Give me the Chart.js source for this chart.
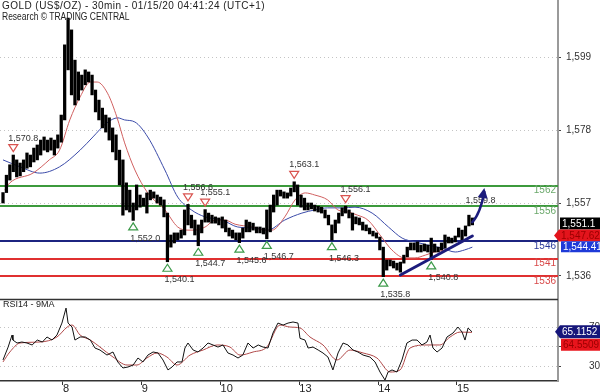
<!DOCTYPE html>
<html><head><meta charset="utf-8">
<script src="https://cdn.jsdelivr.net/npm/chart.js@4.4.1/dist/chart.umd.min.js"></script>
<style>
html,body{margin:0;padding:0;background:#fff;width:600px;height:392px;overflow:hidden;font-family:"Liberation Sans",Arial,sans-serif;}
canvas{position:absolute;left:0;}
#main{top:0;}
#rsi{top:298px;}
.t{position:absolute;left:2px;font-size:10px;line-height:11px;color:#222;white-space:nowrap;transform-origin:0 0;}
</style></head><body>
<canvas id="main" width="600" height="298"></canvas>
<canvas id="rsi" width="600" height="94"></canvas>
<div class="t" style="top:0px;letter-spacing:0.45px">GOLD (US$/OZ) - 30min - 01/15/20 04:41:24 (UTC+1)</div>
<div class="t" style="top:11px;transform:scaleX(0.85)">Research © TRADING CENTRAL</div>
<div class="t" style="top:299px;left:3px;font-size:9px">RSI14 - 9MA</div>
<script>
// ---------- DATA ----------
// 30-min bars, one sample every 2 bars (bar index = 2*i)
const priceHigh = [1560.0,1565.0,1568.0,1570.8,1569.4,1568.5,1569.4,1571.4,1570.8,1572.8,1573.7,1575.1,1576.0,1575.1,1575.7,1575.1,1576.6,1582.3,1602.5,1610.2,1606.8,1598.1,1594.7,1593.8,1595.3,1594.7,1593.8,1589.5,1586.6,1584.3,1582.3,1581.5,1578.6,1576.6,1572.2,1569.4,1562.8,1560.7,1557.0,1562.2,1559.3,1558.4,1559.9,1560.7,1560.2,1559.3,1558.7,1557.9,1554.1,1547.8,1548.4,1548.4,1549.2,1555.0,1556.6,1553.5,1552.1,1550.7,1552.1,1555.1,1554.1,1553.5,1553.0,1552.7,1553.0,1552.1,1549.8,1549.2,1548.4,1548.4,1549.8,1552.1,1551.5,1551.2,1550.1,1550.1,1549.8,1555.0,1556.4,1559.3,1560.7,1560.7,1560.2,1559.9,1561.3,1563.1,1562.2,1559.3,1558.4,1557.0,1557.0,1556.4,1556.1,1555.8,1555.0,1553.5,1550.7,1552.1,1554.1,1555.6,1556.1,1555.0,1554.1,1553.0,1552.7,1551.5,1550.7,1549.8,1548.9,1548.4,1547.2,1544.3,1540.6,1540.6,1540.3,1539.7,1540.0,1542.0,1544.3,1545.5,1545.5,1545.8,1544.9,1545.2,1544.9,1546.9,1545.2,1544.3,1545.5,1547.8,1547.2,1546.9,1547.5,1549.8,1549.2,1550.4,1553.5,1552.7];
const priceLow = [1557.0,1560.0,1563.6,1566.0,1564.5,1564.8,1566.0,1567.0,1567.4,1568.8,1569.4,1570.8,1572.2,1571.7,1572.2,1570.8,1572.8,1574.5,1580.9,1595.3,1588.1,1585.2,1586.6,1589.5,1591.0,1591.8,1588.1,1583.2,1580.9,1578.6,1577.4,1575.1,1571.7,1569.4,1562.2,1553.5,1555.0,1554.4,1552.0,1555.0,1555.8,1556.1,1554.1,1557.9,1558.4,1557.0,1556.4,1553.0,1540.1,1544.3,1545.5,1546.4,1546.9,1547.8,1550.7,1549.8,1547.8,1544.7,1548.4,1551.5,1551.5,1551.2,1551.2,1550.7,1549.8,1548.7,1547.5,1546.9,1546.4,1545.6,1546.9,1548.7,1548.7,1549.2,1548.4,1548.4,1548.1,1546.7,1548.7,1554.4,1556.4,1559.0,1558.4,1558.4,1559.0,1560.2,1556.4,1555.8,1555.0,1555.0,1555.3,1554.7,1554.4,1554.1,1552.7,1550.7,1546.3,1548.4,1551.2,1553.3,1554.1,1552.7,1549.2,1551.0,1550.7,1549.2,1549.0,1548.1,1547.5,1546.9,1543.5,1535.8,1537.7,1538.9,1538.3,1537.7,1537.1,1539.7,1541.5,1543.5,1543.5,1542.9,1542.9,1543.2,1542.9,1540.8,1542.9,1542.9,1543.5,1544.0,1545.5,1545.5,1545.8,1547.2,1546.4,1547.5,1550.4,1550.7];

// moving averages [bar, price]
const maRed = [[1,1560.7],[4,1562.8],[17.5,1565.6],[27,1569.4],[33,1572.2],[39,1580.9],[45,1587.5],[51,1591.8],[55,1591.8],[61,1588.6],[66.5,1581.7],[71,1574.3],[77,1566.5],[84.5,1559.9],[94.5,1555.0],[102,1550.1],[108,1549.2],[112,1549.2],[118,1550.1],[124,1552.1],[129.5,1552.1],[135.5,1550.9],[145.5,1550.1],[153,1549.2],[157,1549.2],[164.5,1553.0],[170.5,1557.9],[176.5,1559.9],[182,1559.3],[189.5,1557.9],[195.5,1555.0],[201.5,1554.4],[207,1553.5],[213,1552.1],[221,1547.2],[227,1543.5],[234.5,1541.2],[240.5,1541.2],[246.5,1542.0],[252,1542.9],[258,1543.5],[264,1544.9],[272.5,1547.2]];
const maBlue = [[0,1569.4],[10,1567.4],[21.5,1565.6],[33,1567.4],[45,1572.2],[52.5,1576.0],[60.5,1580.0],[67,1581.5],[71,1580.9],[77,1580.3],[84.5,1576.0],[94.5,1566.5],[102,1558.7],[110,1555.0],[118,1553.0],[128,1552.1],[137,1550.1],[147,1549.8],[154.5,1549.2],[164.5,1552.1],[174.5,1554.1],[182,1555.0],[189.5,1555.6],[198,1555.6],[205.5,1555.8],[215.5,1554.1],[225,1550.1],[233,1546.9],[240.5,1545.8],[248,1544.9],[256.5,1544.0],[264,1542.9],[269.5,1543.5],[274,1544.3]];

// RSI14 and its 9MA [bar, value]
const rsi14 = [[0,36.6],[3,49.7],[5.3,61.9],[5.8,56.8],[8.2,53.8],[11,54.8],[14,53.8],[17,51.8],[20,56.8],[23,54.8],[25.7,59.9],[28.6,56.8],[31.5,61.9],[34.4,74],[36.8,89.2],[38,74],[40.3,70],[42,56.8],[45,59.9],[48,59.9],[51,56.8],[53.7,48.7],[56.6,46.7],[60.7,41.6],[64.2,44.7],[67,34.6],[70,28.5],[73,29.5],[76,31.5],[78.8,38.6],[81.7,34.6],[84.6,41.6],[87.6,44.7],[90.5,43.7],[93.4,36.6],[96.3,26.5],[98.7,29.5],[101.6,34.6],[104.5,34.6],[106.2,48.7],[108,53.8],[111,46.7],[113.8,44.7],[116.8,48.7],[119.7,53.8],[122.6,51.8],[125.5,49.7],[128.4,51.8],[131.3,43.7],[134.3,41.6],[137.2,38.6],[140,41.6],[143,53.8],[146,48.7],[149,51.8],[151.8,49.7],[154.7,48.7],[157.6,63.9],[160.5,74],[163.5,72],[166.4,74],[169.3,75.1],[172.2,74],[173.4,58.5],[176.3,56.8],[178.1,48.7],[181,49.7],[184,46.7],[186.8,43.7],[189.7,39.6],[192.6,26.5],[195.6,43.7],[198.5,53.8],[201.4,51.8],[204.3,46.7],[207.2,44.7],[210.2,41.6],[214.2,39.6],[217.2,34.6],[220.1,24.4],[223,16.3],[224.8,24.4],[227.1,26.5],[230,24.4],[232.9,36.6],[235.8,53.8],[238.8,56.8],[241.7,56.8],[244.6,51.8],[247.5,54.8],[249.3,61.9],[251,48.7],[253.4,44.7],[256.3,48.7],[259.2,59.9],[262.7,63.9],[265.6,70],[268,64.9],[269.7,56.8],[271.5,69],[273.8,65.1]];
const rsiMA = [[0,34.6],[4,44.7],[10,53.8],[21.5,54.8],[31.5,59.9],[37.5,70],[40.3,72],[45,61.9],[51,56.8],[56.6,49.7],[64.2,39.6],[72.4,31.5],[78.2,31.5],[84,38.6],[90,43.7],[95.7,39.6],[101.6,31.5],[109.2,41.6],[116.8,46.7],[125,51.8],[132.5,49.7],[138.4,41.6],[146,44.7],[154,49.7],[161.7,72],[167.5,70],[173.4,69],[179.2,59.9],[186.8,51.8],[195,36.6],[202.6,46.7],[210.2,43.7],[218.3,38.6],[226,24.4],[231.8,26.5],[237.6,48.7],[247.5,51.8],[255,51.8],[261,59.9],[266.8,64.9],[273.8,64.6]];

const priceTicks = [1536, 1557, 1578, 1599];
const rsiTicks = [30, 50, 70];
const dayTickBars = [35, 81, 127, 173, 219, 265];
const dayLabels = ['8', '9', '10', '13', '14', '15'];
const levels = [1562, 1556, 1546, 1541, 1536];
const highMarks = [[6,1570.8],[108,1556.6],[118,1555.1],[170,1563.1],[200,1556.1]];
const lowMarks = [[76,1552.0],[96,1540.1],[114,1544.7],[138,1545.6],[154,1546.7],[192,1546.3],[222,1535.8],[250,1540.8]];
const trendLine = [[232,1536.3],[274,1547.5]];
const arrowPath = [[274,1551.5],[278.5,1553.8],[281,1561.3]];
const target = [270,1557.8,'1,559.8'];
const lastPrice = 1551.1, maRedLast = 1547.62, maBlueLast = 1544.41;
const rsiLast = 65.1152, rsiMALast = 64.5509;

// ---------- STYLE ----------
const FONT = '"Liberation Sans", Arial, sans-serif';
const levelStyle = ['#3c9a3c','#3c9a3c','#1c2480','#e03030','#e03030'];
const levelText = ['#6aa86a','#6aa86a','#2c3a9a','#d84848','#d84848'];
const X_MIN = -1.751, X_MAX = 324.0;
const fmt1 = v => v.toLocaleString('en-US',{minimumFractionDigits:1,maximumFractionDigits:1});
const pts = arr => arr.map(p => ({x:p[0], y:p[1]}));
const noPadV = s => { s.width = 42; s.paddingTop = 0; s.paddingBottom = 0; };

function tri(ctx, cx, cy, up, stroke){
  ctx.beginPath();
  if(up){ ctx.moveTo(cx, cy-3.5); ctx.lineTo(cx+4.5, cy+3.5); ctx.lineTo(cx-4.5, cy+3.5); }
  else { ctx.moveTo(cx-4.5, cy-3.5); ctx.lineTo(cx+4.5, cy-3.5); ctx.lineTo(cx, cy+3.5); }
  ctx.closePath(); ctx.fillStyle='#fff'; ctx.fill();
  ctx.strokeStyle=stroke; ctx.lineWidth=1.2; ctx.stroke();
}
function tag(ctx, xl, xr, cy, h, text, fill, color, pointer){
  ctx.fillStyle = fill; ctx.beginPath();
  if(pointer){ ctx.moveTo(xl-5, cy); ctx.lineTo(xl, cy-h/2); } else ctx.moveTo(xl, cy-h/2);
  ctx.lineTo(xr, cy-h/2); ctx.lineTo(xr, cy+h/2); ctx.lineTo(xl, cy+h/2);
  ctx.closePath(); ctx.fill();
  ctx.fillStyle=color; ctx.font='10px '+FONT; ctx.textAlign='left'; ctx.textBaseline='middle';
  ctx.fillText(text, xl+2, cy+0.5);
}

const mainDecor = {
  id:'mainDecor',
  beforeDatasetsDraw(c){
    const {ctx, chartArea:a, scales:{x,y}} = c;
    ctx.save();
    levels.forEach((v,i)=>{
      const py = Math.round(y.getPixelForValue(v));
      ctx.strokeStyle = levelStyle[i]; ctx.lineWidth = 2;
      ctx.beginPath(); ctx.moveTo(a.left, py); ctx.lineTo(a.right, py); ctx.stroke();
    });
    ctx.restore();
  },
  afterDatasetsDraw(c){
    const {ctx, chartArea:a, scales:{x,y}} = c;
    ctx.save();
    ctx.font = '10px '+FONT; ctx.textAlign='right'; ctx.textBaseline='middle';
    levels.forEach((v,i)=>{
      ctx.fillStyle = levelText[i];
      ctx.fillText(String(v), a.right-2, y.getPixelForValue(v)+5);
    });
    ctx.font = '9px '+FONT; ctx.textAlign='left'; ctx.textBaseline='middle';
    highMarks.forEach(([b,p])=>{
      const cx = x.getPixelForValue(b), cy = y.getPixelForValue(p)-7;
      tri(ctx, cx, cy, false, '#d9534f');
      ctx.fillStyle='#333'; ctx.fillText(fmt1(p), cx-5, cy-10);
    });
    lowMarks.forEach(([b,p])=>{
      const cx = x.getPixelForValue(b), cy = y.getPixelForValue(p)+6;
      tri(ctx, cx, cy, true, '#3c9a4a');
      ctx.fillStyle='#333'; ctx.fillText(fmt1(p), cx-3, cy+12);
    });
    ctx.fillStyle='#333';
    ctx.fillText(target[2], x.getPixelForValue(target[0]), y.getPixelForValue(target[1]));
    ctx.strokeStyle='#1c1c7c'; ctx.lineWidth=3; ctx.lineCap='round';
    ctx.beginPath();
    ctx.moveTo(x.getPixelForValue(trendLine[0][0]), y.getPixelForValue(trendLine[0][1]));
    ctx.lineTo(x.getPixelForValue(trendLine[1][0]), y.getPixelForValue(trendLine[1][1]));
    ctx.stroke();
    const P = arrowPath.map(p=>[x.getPixelForValue(p[0]), y.getPixelForValue(p[1])]);
    ctx.lineWidth=2.5;
    ctx.beginPath(); ctx.moveTo(P[0][0],P[0][1]);
    ctx.quadraticCurveTo(P[1][0],P[1][1],P[2][0],P[2][1]+4); ctx.stroke();
    const ang = Math.atan2(P[2][1]-P[1][1], P[2][0]-P[1][0]);
    const L=10, W=5;
    ctx.fillStyle='#1c1c7c'; ctx.beginPath();
    ctx.moveTo(P[2][0],P[2][1]);
    ctx.lineTo(P[2][0]-L*Math.cos(ang)+W*Math.sin(ang), P[2][1]-L*Math.sin(ang)-W*Math.cos(ang));
    ctx.lineTo(P[2][0]-L*Math.cos(ang)-W*Math.sin(ang), P[2][1]-L*Math.sin(ang)+W*Math.cos(ang));
    ctx.closePath(); ctx.fill();
    ctx.restore();
  },
  afterDraw(c){
    const {ctx, chartArea:a, scales:{y}} = c;
    ctx.save();
    let y1 = y.getPixelForValue(lastPrice);
    tag(ctx, a.right+2, 600, y1, 12, fmt1(lastPrice), '#000', '#fff', false);
    let y2 = Math.max(y.getPixelForValue(maRedLast), y1+12);
    tag(ctx, a.right+1, 600, y2, 12, maRedLast.toLocaleString('en-US',{minimumFractionDigits:2}), '#e3141c', '#9a0000', true);
    let y3 = Math.max(y.getPixelForValue(maBlueLast), y2+11);
    tag(ctx, a.right+3, 600, y3, 11, maBlueLast.toLocaleString('en-US',{minimumFractionDigits:2}), '#1e3ad8', '#fff', false);
    ctx.restore();
  }
};

const rsiDecor = {
  id:'rsiDecor',
  afterDraw(c){
    const {ctx, chartArea:a, scales:{y}} = c;
    ctx.save();
    ctx.strokeStyle='#333'; ctx.lineWidth=1.5;
    ctx.beginPath(); ctx.moveTo(0, a.top+0.5); ctx.lineTo(a.right, a.top+0.5); ctx.stroke();
    let y1 = y.getPixelForValue(rsiLast);
    tag(ctx, a.right+2, 600, y1, 13, String(rsiLast), '#16167a', '#fff', true);
    let y2 = Math.max(y.getPixelForValue(rsiMALast), y1+13);
    tag(ctx, a.right+3, 600, y2, 12, String(rsiMALast), '#e8141c', '#9a0000', false);
    ctx.restore();
  }
};

Chart.defaults.font.family = FONT;
Chart.defaults.animation = false;

const commonX = {type:'linear', min:X_MIN, max:X_MAX, offset:false};

new Chart(document.getElementById('main'), {
  type:'bar',
  data:{datasets:[
    {type:'bar', data: priceHigh.map((h,i)=>({x:i*2, y:[priceLow[i], h]})), backgroundColor:'#000', borderWidth:0, barThickness:2.6},
    {type:'line', data: pts(maRed), borderColor:'#d06060', borderWidth:1, pointRadius:0, cubicInterpolationMode:'monotone'},
    {type:'line', data: pts(maBlue), borderColor:'#3a4aa8', borderWidth:1, pointRadius:0, cubicInterpolationMode:'monotone'}
  ]},
  options:{
    responsive:false, devicePixelRatio:1, animation:false,
    layout:{autoPadding:false, padding:0},
    plugins:{legend:{display:false}, tooltip:{enabled:false}},
    scales:{
      x:{...commonX, display:false},
      y:{position:'right', min:1529.67, max:1615.4,
        afterBuildTicks: s => { s.ticks = priceTicks.map(v=>({value:v})); },
        afterFit: noPadV,
        ticks:{callback: v => v.toLocaleString('en-US'), font:{size:10}, color:'#333', padding:5},
        grid:{color:'#c4c4c4', drawTicks:true, tickLength:3, tickColor:'#444', tickWidth:1},
        border:{display:true, color:'#9a9a9a', width:2, dash:[1,3]}
      }
    }
  },
  plugins:[mainDecor]
});

new Chart(document.getElementById('rsi'), {
  type:'line',
  data:{datasets:[
    {data: pts(rsi14), borderColor:'#111', borderWidth:1, pointRadius:0},
    {data: pts(rsiMA), borderColor:'#b04848', borderWidth:1, pointRadius:0, cubicInterpolationMode:'monotone'}
  ]},
  options:{
    responsive:false, devicePixelRatio:1, animation:false,
    layout:{autoPadding:false, padding:{top:1, left:0, right:0, bottom:0}},
    plugins:{legend:{display:false}, tooltip:{enabled:false}},
    scales:{
      x:{...commonX,
        afterBuildTicks: s => { s.ticks = dayTickBars.map(v=>({value:v})); },
        afterFit: s => { s.height = 11; s.paddingLeft = 0; s.paddingRight = 0; },
        ticks:{callback:(v,i)=>dayLabels[i], align:'start', padding:-3, font:{size:11}, color:'#222', maxRotation:0, autoSkip:false},
        grid:{drawOnChartArea:false, drawTicks:true, tickLength:4, tickColor:'#333'},
        border:{display:true, color:'#333', width:1.5}
      },
      y:{position:'right', min:15.3, max:98.4,
        afterBuildTicks: s => { s.ticks = rsiTicks.map(v=>({value:v})); },
        afterFit: noPadV,
        ticks:{font:{size:10}, color:'#333', padding:5, crossAlign:'far'},
        grid:{color:'#c4c4c4', drawTicks:true, tickLength:3, tickColor:'#444'},
        border:{display:true, color:'#9a9a9a', width:2, dash:[1,3]}
      }
    }
  },
  plugins:[rsiDecor]
});
</script>
</body></html>
